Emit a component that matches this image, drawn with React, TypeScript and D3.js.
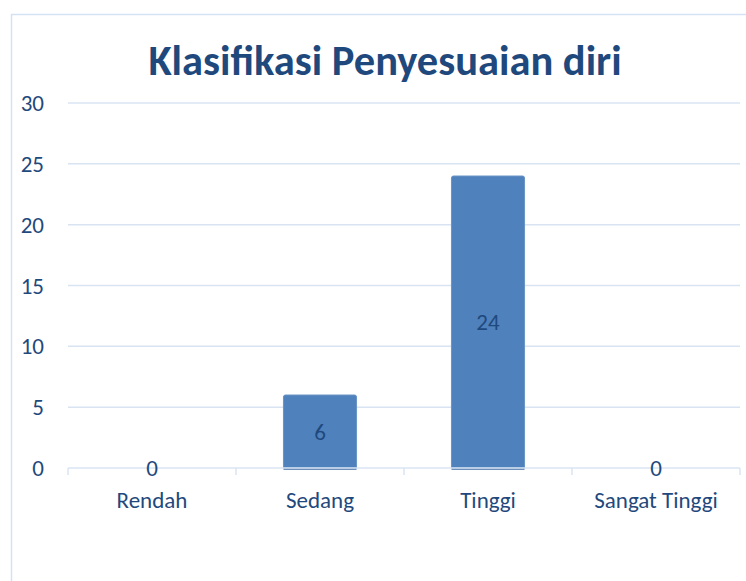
import React from 'react';
import * as d3 from 'd3';

const categories = ['Rendah', 'Sedang', 'Tinggi', 'Sangat Tinggi'];
const values = [0, 6, 24, 0];
const yTicks = [0, 5, 10, 15, 20, 25, 30];
const title = 'Klasifikasi Penyesuaian diri';

const W = 746;
const H = 581;
const FONT = 'Carlito, Calibri, Lato, "Open Sans", sans-serif';
const LABEL = 23;

const App: React.FC = () => {
  const x = d3.scaleBand<string>().domain(categories).range([68, 740]).paddingInner(0.565).paddingOuter(0.2825);
  const y = d3.scaleLinear().domain([0, 30]).range([468, 103]);
  const step = (740 - 68) / categories.length;

  return (
    <svg width={W} height={H} style={{ position: 'absolute', left: 0, top: 0 }} fontFamily={FONT}>
      <rect x={0} y={0} width={W} height={H} fill="#fff" />
      {/* chart border */}
      <rect x={11.5} y={14.5} width={W} height={H} fill="none" stroke="#d5e2f3" strokeWidth={1.5} />

      <text x={385} y={75} textAnchor="middle" fontSize={42.5} fontWeight="bold" fill="#1f497d">{title}</text>

      {/* gridlines */}
      {yTicks.filter(t => t > 0).map(t => (
        <line key={t} x1={68} x2={740} y1={y(t)} y2={y(t)} stroke="#d9e4f3" strokeWidth={1.5} />
      ))}
      {yTicks.map(t => (
        <text key={'l' + t} x={44} y={y(t)} dy="0.35em" textAnchor="end" fontSize={LABEL} fill="#1f497d">{t}</text>
      ))}

      {/* bars */}
      {categories.map((c, i) => {
        const v = values[i];
        if (v <= 0) return null;
        const bx = x(c)!;
        const bw = x.bandwidth();
        const top = y(v);
        const r = 2;
        const d = `M${bx},${y(0)} V${top + r} Q${bx},${top} ${bx + r},${top} H${bx + bw - r} Q${bx + bw},${top} ${bx + bw},${top + r} V${y(0)} Z`;
        return (
          <g key={c}>
            <path d={d} fill="#4f81bd" stroke="#6a94c6" strokeWidth={1} />
            <line x1={bx} x2={bx + bw} y1={y(0) + 1} y2={y(0) + 1} stroke="#3c6aa3" strokeWidth={1.5} />
          </g>
        );
      })}

      {/* x axis */}
      <line x1={68} x2={740} y1={y(0)} y2={y(0)} stroke="#d9e4f3" strokeWidth={1.5} />
      {d3.range(categories.length + 1).map(i => (
        <line key={'t' + i} x1={68 + i * step} x2={68 + i * step} y1={y(0)} y2={y(0) + 7} stroke="#d9e4f3" strokeWidth={1.5} />
      ))}

      {/* data labels */}
      {categories.map((c, i) => {
        const v = values[i];
        const cx = x(c)! + x.bandwidth() / 2;
        const cy = v > 0 ? (y(v) + y(0)) / 2 : y(0);
        return (
          <text key={'v' + c} x={cx} y={cy} dy="0.35em" textAnchor="middle" fontSize={LABEL} fill="#1f497d">{v}</text>
        );
      })}

      {/* category labels */}
      {categories.map(c => (
        <text key={'c' + c} x={x(c)! + x.bandwidth() / 2} y={500} dy="0.35em" textAnchor="middle" fontSize={LABEL} fill="#1f497d">{c}</text>
      ))}
    </svg>
  );
};

export default App;
